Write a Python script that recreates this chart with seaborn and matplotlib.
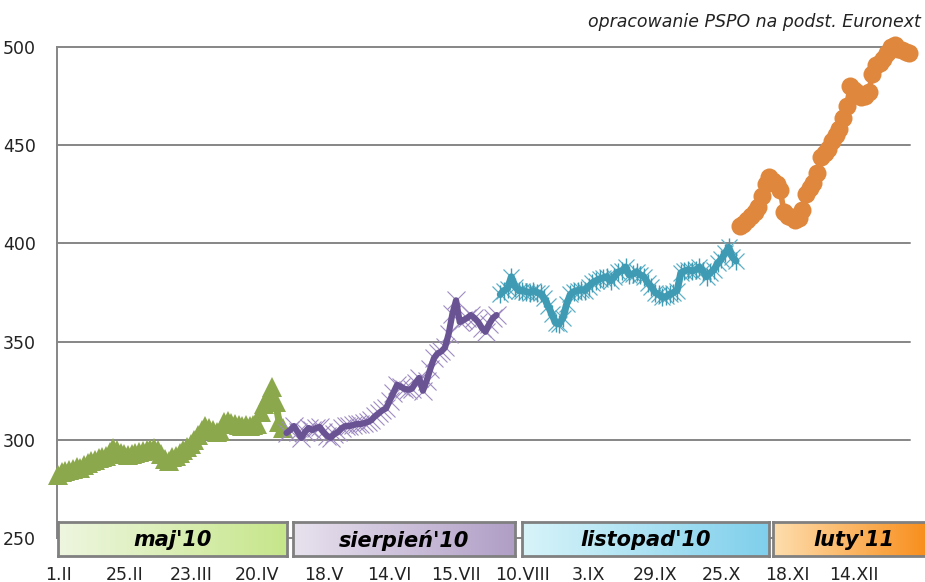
import numpy as np
import pandas as pd
import matplotlib
matplotlib.use("Agg")
import matplotlib.pyplot as plt
import seaborn as sns
from matplotlib.colors import LinearSegmentedColormap

# ---- data ----
green_maj10 = [282, 283.5, 284, 284.5, 285, 286, 285.5, 287, 288, 289,
               289.5, 290.5, 291, 292, 294, 296, 295, 293.5, 293, 292.5,
               293, 293.5, 294, 294.5, 295, 295.5, 296, 295, 293, 290,
               289, 291, 292, 293.5, 295, 296.5, 298, 300, 302.5, 305,
               307, 306, 305, 304, 304.5, 309, 309.5, 308.5, 308, 307.5,
               307, 307.5, 307, 307.5, 308, 314, 318, 322, 327, 319,
               309, 306]
purple_sierpien10 = [303.5, 305, 307, 304, 301, 304, 306, 305, 306, 306.5,
                     304, 302, 301, 303, 304, 306, 307, 307, 307.5, 308,
                     308, 308.5, 309, 310, 312, 313.5, 315, 316, 320, 324,
                     328, 327, 326, 325.5, 326, 329, 331.5, 325, 330, 336,
                     341.5, 344, 345, 347, 354, 364, 371, 360, 361, 362,
                     363.5, 362, 360, 357, 355, 359, 362, 363.5]
teal_listopad10 = [374, 376, 377, 383, 378, 376, 376, 375.5, 375, 376,
                   375, 374.5, 372, 368, 364, 359.5, 359, 362, 369, 374,
                   375.5, 376, 376.5, 376, 378, 380, 381, 382, 382.5, 383,
                   381, 383, 385.5, 386, 388, 384, 384.5, 385.5, 384, 383,
                   380, 378, 375, 374, 372.5, 373, 374, 375, 376, 385,
                   386, 386.5, 386, 386.5, 388, 386, 383, 385, 386.5, 390,
                   392, 395, 398, 393, 391]
orange_luty11 = [409, 410, 412, 414, 416, 418.5, 424, 430, 434, 432,
                 430, 427, 416, 414, 413.5, 412, 413, 417, 425, 428,
                 431, 436, 444, 446, 448, 452, 455, 458, 464, 470,
                 480, 478, 476.5, 474.5, 475, 477, 486, 491, 492, 494,
                 497, 500, 501, 499, 498.5, 497.5, 497]

contract_names = ["maj'10", "sierpień'10", "listopad'10", "luty'11"]
x_tick_labels = ["1.II", "25.II", "23.III", "20.IV", "18.V", "14.VI", "15.VII",
                 "10.VIII", "3.IX", "29.IX", "25.X", "18.XI", "14.XII"]
label_every = 18  # trading days between axis labels
y_ticks = [250, 300, 350, 400, 450, 500]
subtitle = "opracowanie PSPO na podst. Euronext"

series = [green_maj10, purple_sierpien10, teal_listopad10, orange_luty11]
frames = []
start = 0
for name, vals in zip(contract_names, series):
    frames.append(pd.DataFrame({"day": np.arange(start, start + len(vals)),
                                "price": vals, "contract": name}))
    start += len(vals)
df = pd.concat(frames, ignore_index=True)

# ---- figure ----
W, H = 925, 582
sns.set_style("white")
plt.rcParams['font.family'] = ['DejaVu Sans']
fig = plt.figure(figsize=(W / 100, H / 100), dpi=100)

def fx(px):
    return px / W

def fy(py):
    return 1 - py / H

ax = fig.add_axes([fx(57), fy(538), fx(910) - fx(57), fy(47) - fy(538)])

grid_col = "#868686"
for v in y_ticks:
    ax.axhline(v, color=grid_col, lw=1.4, zorder=0)

green = "#8ba84c"
purple_line = "#6a5393"
purple_mark = "#9f8cc2"
teal = "#3f9bb3"
teal_mark = "#5cb0c6"
orange = "#df873c"

d = df[df.contract == contract_names[0]]
sns.lineplot(data=d, x="day", y="price", ax=ax, color=green, lw=5,
             marker="^", markersize=15, markeredgewidth=0,
             markerfacecolor=green, zorder=3)
d = df[df.contract == contract_names[1]]
sns.lineplot(data=d, x="day", y="price", ax=ax, lw=0, marker="x",
             markersize=13, markeredgewidth=0.8, color=purple_mark,
             markeredgecolor=purple_mark, zorder=3)
sns.lineplot(data=d, x="day", y="price", ax=ax, color=purple_line, lw=4.5,
             zorder=4)
d = df[df.contract == contract_names[2]]
sns.lineplot(data=d, x="day", y="price", ax=ax, lw=0, marker="x",
             markersize=12, markeredgewidth=0.9, color=teal_mark,
             markeredgecolor=teal_mark, zorder=3)
sns.lineplot(data=d, x="day", y="price", ax=ax, lw=0, marker="|",
             markersize=13, markeredgewidth=1.0, color=teal,
             markeredgecolor=teal, zorder=3)
sns.lineplot(data=d, x="day", y="price", ax=ax, color=teal, lw=5,
             zorder=4)
d = df[df.contract == contract_names[3]]
sns.lineplot(data=d, x="day", y="price", ax=ax, color=orange, lw=4,
             marker="o", markersize=13, markeredgewidth=0,
             markerfacecolor=orange, zorder=3)
for ln in ax.lines:
    ln.set_clip_on(False)

ax.set_xlim(-0.3, 231.2)
ax.set_ylim(250, 500)
ax.set_yticks(y_ticks)
ax.set_yticklabels([str(v) for v in y_ticks], fontsize=12.5, color="#222222")
ax.set_xticks([i * label_every for i in range(len(x_tick_labels))])
ax.set_xticklabels(x_tick_labels, fontsize=12.5, color="#222222")
ax.tick_params(axis="y", length=0, pad=15)
ax.tick_params(axis="x", length=0, pad=20)
ax.set_xlabel("")
ax.set_ylabel("")
if ax.get_legend():
    ax.get_legend().remove()
for s in ["top", "right", "bottom"]:
    ax.spines[s].set_visible(False)
ax.spines["left"].set_color(grid_col)
ax.spines["left"].set_linewidth(1.4)
ax.spines["left"].set_bounds(250, 500)

# contract boxes
boxes = [(58, 287, "#eef6e0", "#c6e68a"),
         (293, 515, "#e8e2ee", "#b09ec6"),
         (522, 769, "#d8f4f9", "#7fcfec"),
         (773, 935, "#fedeae", "#f88a14")]
for (x0, x1, c0, c1), name in zip(boxes, contract_names):
    bax = fig.add_axes([fx(x0), fy(556), fx(x1) - fx(x0), fy(522) - fy(556)])
    cmap = LinearSegmentedColormap.from_list("g", [c0, c1])
    bax.imshow(np.linspace(0, 1, 256)[None, :], cmap=cmap, aspect="auto",
               extent=[0, 1, 0, 1])
    bax.set_xticks([])
    bax.set_yticks([])
    for sp in bax.spines.values():
        sp.set_color("#808080")
        sp.set_linewidth(2)
        sp.set_visible(True)
    bax.text(0.5, 0.47, name, ha="center", va="center", fontsize=15,
             fontweight="bold", style="italic", color="black",
             transform=bax.transAxes)

fig.text(fx(921), fy(22), subtitle, ha="right", va="center",
         fontsize=12.5, style="italic", color="#222222")

fig.savefig("out.png", dpi=100)
